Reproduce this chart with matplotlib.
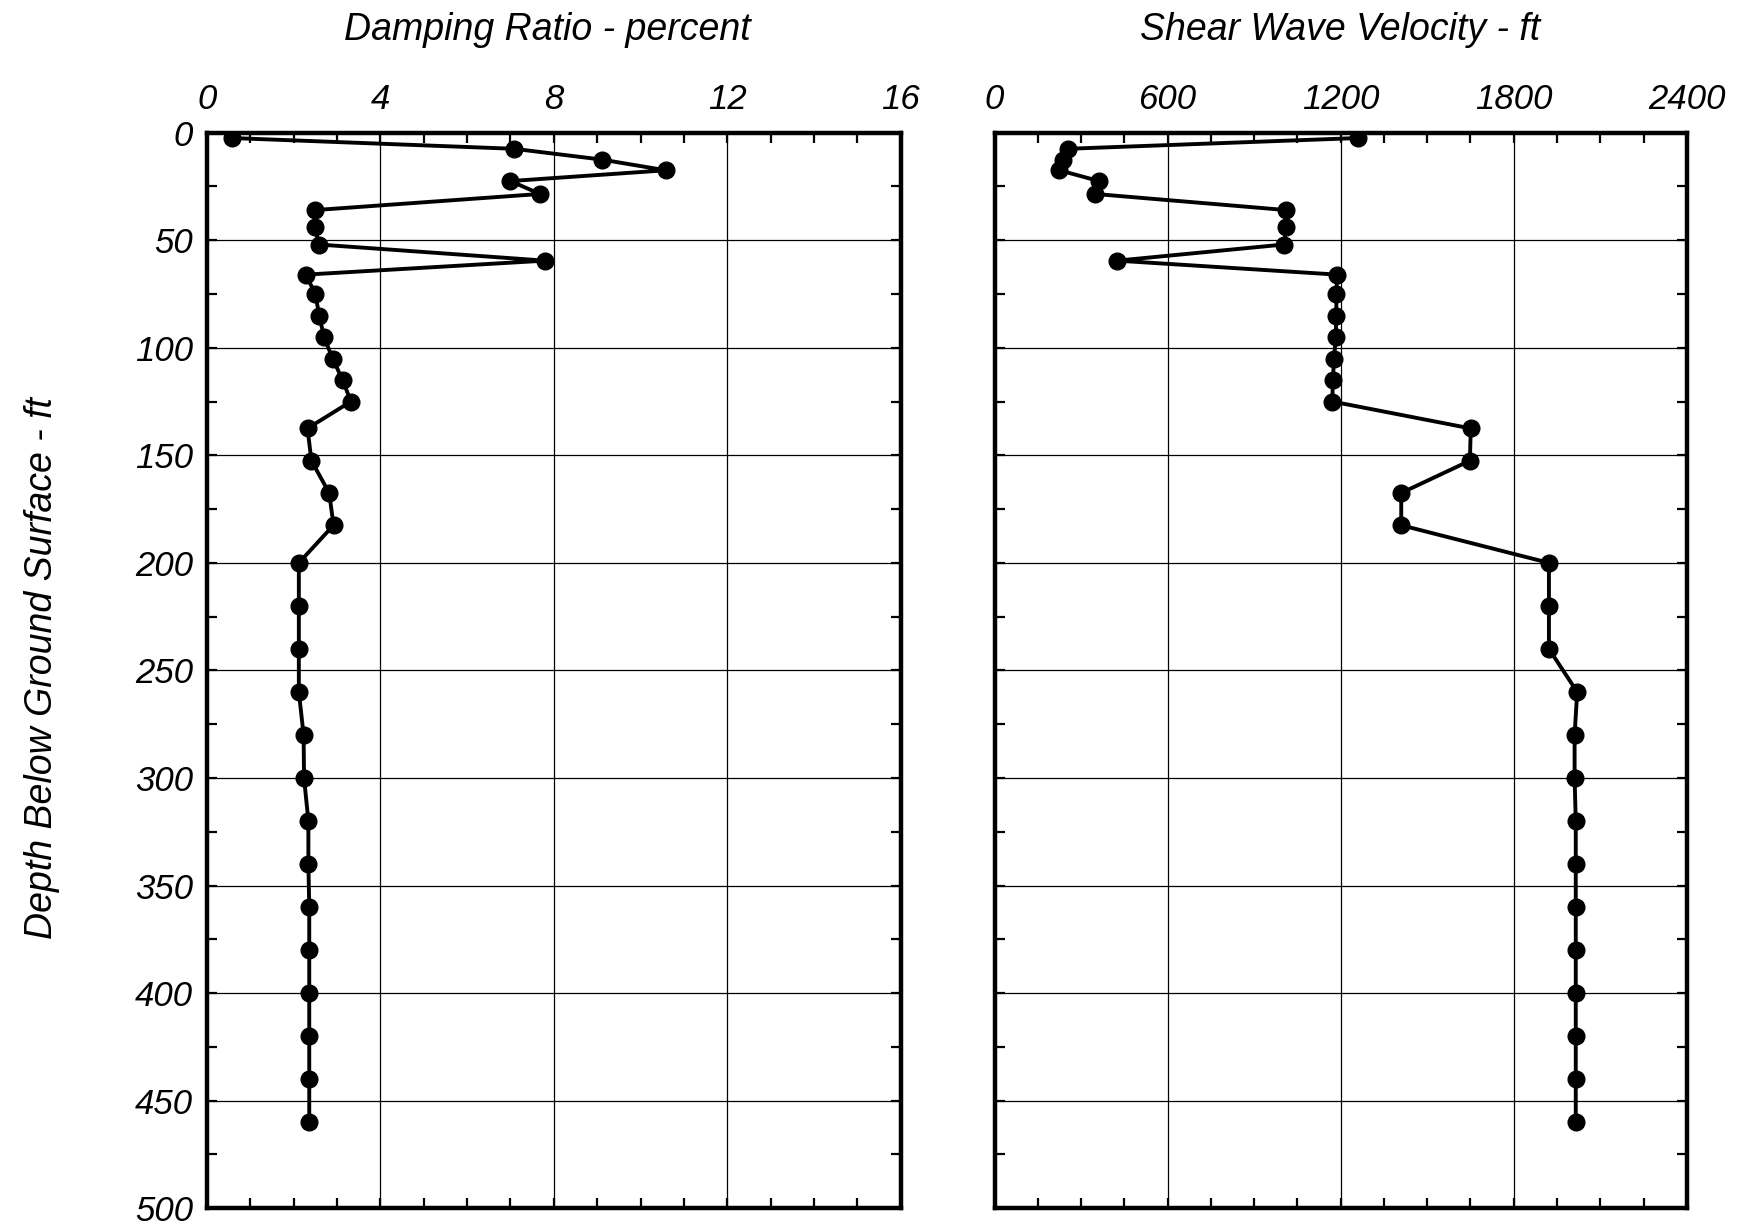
import matplotlib
matplotlib.use("Agg")
import matplotlib.pyplot as plt
from matplotlib.ticker import MultipleLocator

plt.rcParams['font.family'] = ['Liberation Sans', 'DejaVu Sans']
plt.rcParams['font.style'] = 'italic'

# depth of each measurement, ft
depth = [2.5, 7.5, 12.5, 17.5, 22.5, 28.5, 36, 44, 52, 59.5, 66, 75, 85, 95,
         105, 115, 125, 137.5, 152.5, 167.5, 182.5, 200, 220, 240, 260, 280,
         300, 320, 340, 360, 380, 400, 420, 440, 460]

# damping ratio, percent
damping = [0.58, 7.08, 9.10, 10.58, 7.0, 7.68, 2.49, 2.49, 2.58, 7.80, 2.28,
           2.50, 2.59, 2.70, 2.90, 3.13, 3.32, 2.32, 2.41, 2.82, 2.92, 2.12,
           2.12, 2.12, 2.12, 2.23, 2.24, 2.34, 2.34, 2.36, 2.36, 2.36, 2.36,
           2.36, 2.36]

# shear wave velocity, ft/s
vs = [1260, 255, 237, 225, 362, 348, 1012, 1012, 1003, 425, 1188, 1185, 1185,
      1183, 1177, 1173, 1171, 1651, 1648, 1410, 1410, 1922, 1922, 1922, 2020,
      2011, 2011, 2015, 2015, 2015, 2015, 2015, 2015, 2015, 2015]

fig = plt.figure(figsize=(17.46, 12.26), dpi=100)
ax1 = fig.add_axes([0.1185, 0.0145, 0.3974, 0.8773])
ax2 = fig.add_axes([0.5696, 0.0145, 0.3965, 0.8773])


def style_axis(ax, xmax, major, minor):
    ax.set_xlim(0, xmax)
    ax.set_ylim(500, 0)
    ax.xaxis.set_major_locator(MultipleLocator(major))
    ax.xaxis.set_minor_locator(MultipleLocator(minor))
    ax.yaxis.set_major_locator(MultipleLocator(50))
    ax.yaxis.set_minor_locator(MultipleLocator(25))
    ax.xaxis.tick_top()
    ax.tick_params(which='both', direction='in', top=True, bottom=True,
                   left=True, right=True, width=1.6, color='black', length=7)
    ax.tick_params(axis='x', labelsize=25, pad=12)
    ax.tick_params(axis='y', labelsize=25, pad=10)
    ax.grid(True, which='major', color='black', linewidth=0.9)
    for sp in ax.spines.values():
        sp.set_linewidth(3.2)


ax1.plot(damping, depth, color='black', linewidth=2.8, marker='o',
         markersize=12, zorder=3)
style_axis(ax1, 16, 4, 1)

ax2.plot(vs, depth, color='black', linewidth=2.8, marker='o',
         markersize=12, zorder=3)
style_axis(ax2, 2400, 600, 150)
ax2.tick_params(axis='y', labelleft=False)

fig.text(547 / 1746, 1 - 30 / 1226, 'Damping Ratio - percent',
         fontsize=27, ha='center', va='center')
fig.text(1340 / 1746, 1 - 30 / 1226, 'Shear Wave Velocity - ft',
         fontsize=27, ha='center', va='center')
fig.text(42 / 1746, 1 - 668 / 1226, 'Depth Below Ground Surface - ft',
         fontsize=27, ha='center', va='center', rotation=90)

fig.savefig('out.png', dpi=100)
